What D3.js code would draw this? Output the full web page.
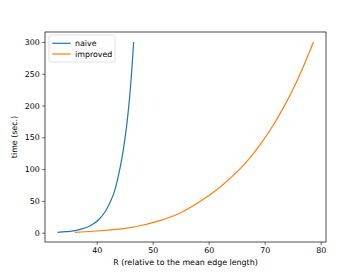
<!DOCTYPE html>
<html>
<head>
<meta charset="utf-8">
<script src="https://cdn.jsdelivr.net/npm/d3@7"></script>
<style>
  body { margin: 0; background: #fff; }
  svg text { font-family: "DejaVu Sans", sans-serif; }
</style>
</head>
<body>
<svg id="chart" width="363" height="272"></svg>
<script>
// values
let naiveR    = [33.0, 34.5, 36.1, 37.4, 38.5, 39.5, 40.3, 41.5, 42.4, 43.1, 43.6, 44.2, 44.75, 45.4, 46.0, 46.6],
    naiveT    = [0.6, 1.6, 3.2, 6, 9.5, 14.5, 20, 33, 48, 63, 79, 103, 130, 172, 225, 300];
let improvedR = [36.1, 38.0, 40.0, 42.0, 44.0, 46.0, 47.75, 51.3, 54.9, 58.45, 62.0, 65.6, 67.4, 69.2, 71.55, 73.3, 75.1, 76.9, 78.7],
    improvedT = [0.6, 1.5, 2.7, 4.2, 5.8, 8, 11, 19, 31, 49, 71.5, 100.5, 118, 138.6, 169.5, 196, 226.5, 261, 300];
let xTicks = [40, 50, 60, 70, 80],
    yTicks = [0, 50, 100, 150, 200, 250, 300];
let seriesNames = ["naive", "improved"],
    colors = ["#1f77b4", "#ff7f0e"];

// set the dimensions and margins of the graph
let margin = {top: 32, right: 37, bottom: 30, left: 45},
    width = 363 - margin.left - margin.right,
    height = 272 - margin.top - margin.bottom;

let x = d3.scaleLinear().domain([30.77, 80.95]).range([0, width]);
let y = d3.scaleLinear().domain([-14.6, 315.7]).range([height, 0]);

let svg = d3.select("#chart")
  .append("g")
  .attr("transform", "translate(" + margin.left + "," + margin.top + ")");

let series = [
  {name: seriesNames[0], r: naiveR, t: naiveT},
  {name: seriesNames[1], r: improvedR, t: improvedT}
];

let line = d3.line()
  .x(d => x(d[0]))
  .y(d => y(d[1]))
  .curve(d3.curveCatmullRom.alpha(0.5));

series.forEach((s, i) => {
  svg.append("path")
    .datum(d3.zip(s.r, s.t))
    .attr("fill", "none")
    .attr("stroke", colors[i])
    .attr("stroke-width", 1.2)
    .attr("d", line);
});

// axes
let xAxis = svg.append("g")
  .attr("transform", "translate(0," + height + ")")
  .call(d3.axisBottom(x).tickValues(xTicks).tickSize(2.8).tickPadding(2.5));
let yAxis = svg.append("g")
  .call(d3.axisLeft(y).tickValues(yTicks).tickSize(2.8).tickPadding(2.5));

[xAxis, yAxis].forEach(a => {
  a.select(".domain").remove();
  a.selectAll("line").attr("stroke", "#000").attr("stroke-width", 0.6);
  a.selectAll("text").attr("font-size", "7.9px").attr("fill", "#000")
    .style("font-family", "DejaVu Sans, sans-serif");
});

// frame
svg.append("rect")
  .attr("width", width).attr("height", height)
  .attr("fill", "none").attr("stroke", "#000").attr("stroke-width", 0.7);

// axis labels
svg.append("text")
  .attr("x", width / 2).attr("y", height + 23)
  .attr("text-anchor", "middle").attr("font-size", "7.9px")
  .text("R (relative to the mean edge length)");
svg.append("text")
  .attr("transform", "translate(" + (-28) + "," + (height / 2) + ") rotate(-90)")
  .attr("text-anchor", "middle").attr("font-size", "7.9px")
  .text("time (sec.)");

// legend
let legend = svg.append("g").attr("transform", "translate(4,3)");
legend.append("rect")
  .attr("width", 66).attr("height", 27).attr("rx", 2)
  .attr("fill", "#fff").attr("fill-opacity", 0.8)
  .attr("stroke", "#ccc").attr("stroke-width", 0.6);
seriesNames.forEach((n, i) => {
  let yy = 8.3 + i * 10.7;
  legend.append("line")
    .attr("x1", 3.3).attr("x2", 21.7).attr("y1", yy).attr("y2", yy)
    .attr("stroke", colors[i]).attr("stroke-width", 1.2);
  legend.append("text")
    .attr("x", 26).attr("y", yy).attr("dy", "0.35em")
    .attr("font-size", "7.9px").text(n);
});
</script>
</body>
</html>
